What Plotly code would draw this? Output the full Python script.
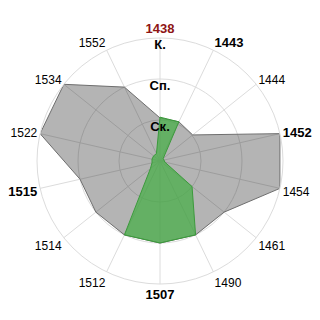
import plotly.graph_objects as go

categories = ["1438", "1443", "1444", "1452", "1454", "1461", "1490",
              "1507", "1512", "1514", "1515", "1522", "1534", "1552"]
bold_labels = ["1438", "1443", "1452", "1507", "1515"]
highlight_label = "1438"
gray_values = [1.05, 1.06, 1.02, 3.0, 3.0, 2.0, 2.0, 2.0, 2.0, 2.0, 2.0, 3.0, 3.0, 2.0]
green_values = [1.07, 1.06, 0.1, 0.1, 0.12, 1.0, 2.0, 2.0, 2.0, 0.3, 0.2, 0.2, 0.2, 0.2]
level_values = [1, 2, 3]
level_text = ["Ск.", "Сп.", "К."]
level_label_r = [0.8, 1.8, 2.82]

FONT = "Liberation Sans, Arial, sans-serif"


def tick_label(c):
    if c == highlight_label:
        return '<span style="font-size:13px;color:#8e1414"><b>%s</b></span>' % c
    if c in bold_labels:
        return '<span style="font-size:13px"><b>%s</b></span>' % c
    return c


fig = go.Figure()
fig.add_trace(go.Scatterpolar(
    r=gray_values + gray_values[:1], theta=categories + categories[:1],
    mode="lines", fill="toself",
    fillcolor="rgba(40,40,40,0.35)",
    line=dict(color="#6e6e6e", width=1),
    hoverinfo="skip", showlegend=False))
fig.add_trace(go.Scatterpolar(
    r=green_values + green_values[:1], theta=categories + categories[:1],
    mode="lines", fill="toself",
    fillcolor="rgba(69,174,69,0.72)",
    line=dict(color="#3c9a3c", width=1),
    hoverinfo="skip", showlegend=False))
fig.add_trace(go.Scatterpolar(
    r=level_label_r, theta=[categories[0]] * len(level_text),
    mode="text", text=["<b>%s</b>" % t for t in level_text],
    textposition="middle center",
    textfont=dict(family=FONT, size=13, color="#000"),
    hoverinfo="skip", showlegend=False))

fig.update_layout(
    width=320, height=320,
    margin=dict(l=36, r=36, t=38, b=36),
    paper_bgcolor="white",
    font=dict(family=FONT, size=12, color="#000"),
    polar=dict(
        bgcolor="white",
        radialaxis=dict(range=[0, 3], tickvals=level_values, ticktext=level_text,
                        showticklabels=False, ticks="", showline=False,
                        gridcolor="#dcdcdc", gridwidth=1, angle=90),
        angularaxis=dict(type="category", categoryorder="array",
                         categoryarray=categories,
                         tickvals=categories,
                         ticktext=[tick_label(c) for c in categories],
                         direction="clockwise", rotation=90,
                         ticks="", showline=True, linecolor="#dcdcdc",
                         gridcolor="#dcdcdc", gridwidth=1,
                         tickfont=dict(family=FONT, size=12, color="#000")),
    ),
)

fig.write_html("out.html")
